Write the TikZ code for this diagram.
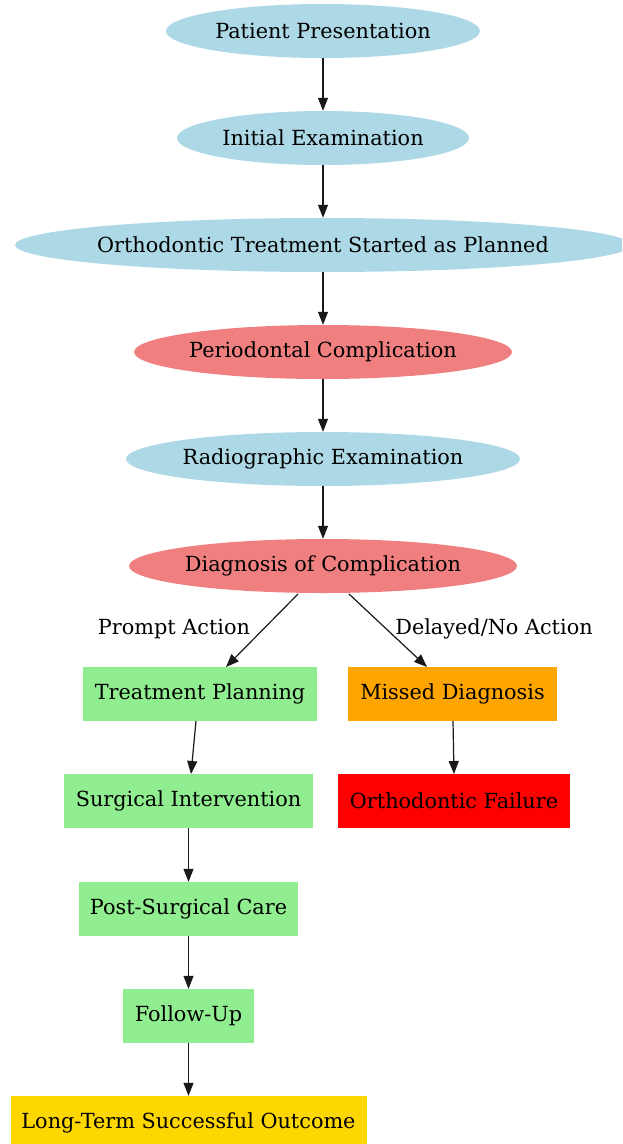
\documentclass[tikz,border=0pt]{standalone}
\usepackage{fontspec}
\setmainfont{DejaVu Serif}
\usetikzlibrary{shapes.geometric,arrows.meta}
\definecolor{lblue}{HTML}{ADD8E6}
\definecolor{lcoral}{HTML}{F08080}
\definecolor{lgreen}{HTML}{90EE90}
\definecolor{orng}{HTML}{FFA500}
\definecolor{gld}{HTML}{FFD700}
\definecolor{rd}{HTML}{FF0000}
\tikzset{
  x=1pt, y=-1pt,
  every node/.style={font=\fontsize{20.8}{24}\selectfont, text=black, inner sep=0pt},
  every label/.style={font=\fontsize{20.8}{24}\selectfont, text=black, inner sep=0pt},
  ell/.style={ellipse, minimum height=54pt},
  box/.style={rectangle, minimum height=54pt},
  conn/.style={draw=black!90, line width=1.2pt, -{Triangle[length=13pt,width=10pt]}},
  elabel/.style={font=\fontsize{20.8}{24}\selectfont}
}
\begin{document}
\begin{tikzpicture}
\useasboundingbox (0,0) rectangle (622,1144);
\begin{scope}
\clip (0,0) rectangle (622,1144);
\node[ell, fill=lblue, minimum width=314pt, label={center:Patient Presentation}] (pp) at (323,31) {};
\node[ell, fill=lblue, minimum width=292pt, label={center:Initial Examination}] (ie) at (323,138) {};
\node[ell, fill=lblue, minimum width=616pt, label={center:Orthodontic Treatment Started as Planned}] (ot) at (323,245) {};
\node[ell, fill=lcoral, minimum width=378pt, label={center:Periodontal Complication}] (pc) at (323,352) {};
\node[ell, fill=lblue, minimum width=394pt, label={center:Radiographic Examination}] (re) at (323,459) {};
\node[ell, fill=lcoral, minimum width=388pt, label={center:Diagnosis of Complication}] (dc) at (323,566) {};
\node[box, fill=lgreen, minimum width=234pt] (tp) at (200,694) {Treatment Planning};
\node[box, fill=orng, minimum width=209pt] (md) at (452.5,694) {Missed Diagnosis};
\node[box, fill=lgreen, minimum width=249pt] (si) at (188.5,801) {Surgical Intervention};
\node[box, fill=rd, minimum width=232pt] (of) at (454,801) {Orthodontic Failure};
\node[box, fill=lgreen, minimum width=219pt] (ps) at (188.5,909) {Post-Surgical Care};
\node[box, fill=lgreen, minimum width=131pt] (fu) at (188.5,1016) {Follow-Up};
\node[box, fill=gld, minimum width=356pt] (lt) at (188.5,1123) {Long-Term Successful Outcome};
\end{scope}
\coordinate (dcl) at (298,594);
\coordinate (dcr) at (349,594);
\coordinate (tpt) at (226,667);
\coordinate (mdt) at (427,667);
\coordinate (tpb) at (196,721);
\coordinate (sit) at (191,774);
\coordinate (mdb) at (453,721);
\coordinate (oft) at (454,774);
\draw[conn] (pp) -- (ie);
\draw[conn] (ie) -- (ot);
\draw[conn] (ot) -- (pc);
\draw[conn] (pc) -- (re);
\draw[conn] (re) -- (dc);
\draw[conn] (dcl) -- (tpt);
\draw[conn] (dcr) -- (mdt);
\draw[conn] (tpb) -- (sit);
\draw[conn] (mdb) -- (oft);
\draw[conn] (si) -- (ps);
\draw[conn] (ps) -- (fu);
\draw[conn] (fu) -- (lt);
\node[elabel] (la) at (174,629) {Prompt Action};
\node[elabel] (lb) at (494,629) {Delayed/No Action};
\end{tikzpicture}
\end{document}
